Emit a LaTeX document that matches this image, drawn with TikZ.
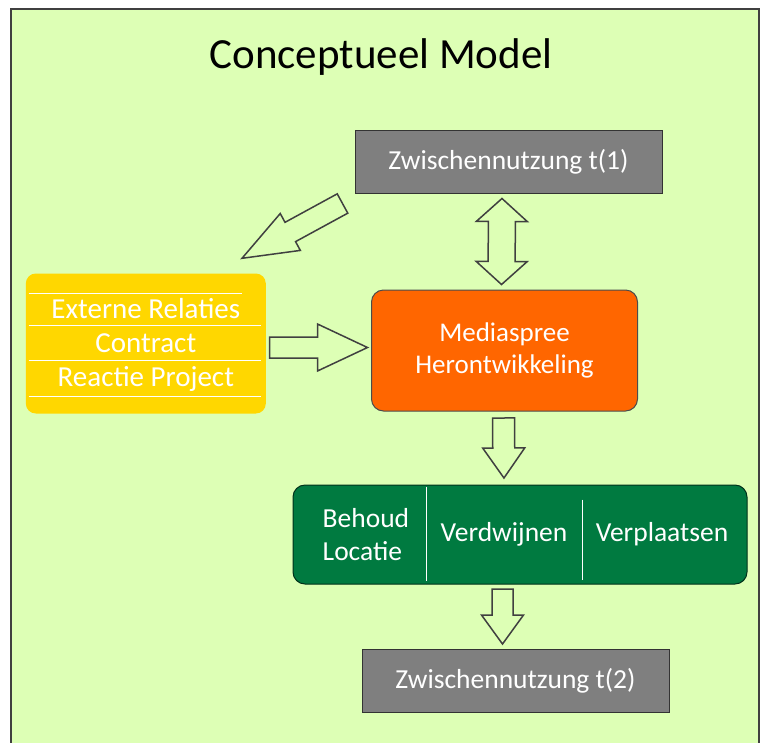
\documentclass[tikz,border=0pt]{standalone}
\usepackage{fontspec}
\setmainfont{Carlito}
\usepackage{xcolor}
\usetikzlibrary{positioning, calc}

\definecolor{panelgreen}{HTML}{DDFFB5}
\definecolor{boxgray}{HTML}{7F7F7F}
\definecolor{boxorange}{HTML}{FF6600}
\definecolor{boxyellow}{HTML}{FFD700}
\definecolor{boxgreen}{HTML}{007A40}
\definecolor{edgegray}{HTML}{404040}

\begin{document}
\begin{tikzpicture}[
    x=1pt, y=-1pt,
    fat shaft/.store in=\fatshaft, fat head/.store in=\fathead,
    fat len/.store in=\fatlen, fat gap/.store in=\fatgap,
    fat shaft=11pt, fat head=21pt, fat len=30pt, fat gap=0pt,
    panel/.style={draw=edgegray, fill=panelgreen, line width=2pt},
    titletext/.style={font=\fontsize{43}{51}\selectfont},
    graybox/.style={rectangle, draw=black!80, fill=boxgray, line width=1pt, minimum width=307pt, minimum height=63pt, text=white, font=\fontsize{27.5}{33}\selectfont},
    devbox/.style={rectangle, draw=black!70, fill=boxorange, rounded corners=12pt, line width=1pt, minimum width=266pt, minimum height=121pt, align=center, text=white, font=\fontsize{27}{32}\selectfont},
    extbox/.style={rectangle, fill=boxyellow, rounded corners=10pt, minimum width=240pt, minimum height=140pt},
    optbox/.style={rectangle, draw=black!60!boxgreen, fill=boxgreen, rounded corners=12pt, line width=1pt, minimum width=454pt, minimum height=99pt},
    rowtext/.style={text=white, font=\fontsize{29}{34}\selectfont, inner sep=0pt},
    optlbl/.style={text=white, font=\fontsize{27.5}{33}\selectfont, align=left, inner sep=0pt},
    divider/.style={draw=white, line width=1pt},
    blockarrow/.style={draw=edgegray, line width=1.5pt, line join=miter, to path={
        let \p1=($(\tikztostart)!\fatgap!(\tikztotarget)$),
            \p2=($(\tikztotarget)!\fatgap!(\tikztostart)$) in
        ($(\p1)!\fatshaft!-90:(\p2)$)
        -- ($(\p2)!\fatlen!(\p1)!\fatshaft!-90:(\p2)$)
        -- ($(\p2)!\fatlen!(\p1)!\fathead!-90:(\p2)$)
        -- (\p2)
        -- ($(\p2)!\fatlen!(\p1)!\fathead!90:(\p2)$)
        -- ($(\p2)!\fatlen!(\p1)!\fatshaft!90:(\p2)$)
        -- ($(\p1)!\fatshaft!90:(\p2)$) -- cycle}},
    twowayarrow/.style={draw=edgegray, line width=1.5pt, line join=miter, to path={
        let \p1=($(\tikztostart)!\fatgap!(\tikztotarget)$),
            \p2=($(\tikztotarget)!\fatgap!(\tikztostart)$) in
        (\p1)
        -- ($(\p1)!\fatlen!(\p2)!\fathead!-90:(\p2)$)
        -- ($(\p1)!\fatlen!(\p2)!\fatshaft!-90:(\p2)$)
        -- ($(\p2)!\fatlen!(\p1)!\fatshaft!-90:(\p2)$)
        -- ($(\p2)!\fatlen!(\p1)!\fathead!-90:(\p2)$)
        -- (\p2)
        -- ($(\p2)!\fatlen!(\p1)!\fathead!90:(\p2)$)
        -- ($(\p2)!\fatlen!(\p1)!\fatshaft!90:(\p2)$)
        -- ($(\p1)!\fatlen!(\p2)!\fatshaft!90:(\p2)$)
        -- ($(\p1)!\fatlen!(\p2)!\fathead!90:(\p2)$) -- cycle}}
]

\useasboundingbox (0,0) rectangle (765,742);
\fill[white] (0,0) rectangle (765,742);
\draw[panel] (11,9) rectangle (759,760);

% Title
\node[titletext, anchor=base] (title) at (381,68) {Conceptueel Model};

% Main column
\node[graybox] (t1) at (508.5,161.5) {Zwischennutzung t(1)};
\node[devbox, below=96pt of t1, xshift=-4pt] (dev) {Mediaspree\\Herontwikkeling};
\node[optbox, below=73pt of dev, xshift=15.5pt] (opts) {};
\node[graybox, below=64pt of opts, xshift=-4.5pt] (t2) {Zwischennutzung t(2)};

% Left: external factors
\node[extbox, left=105pt of dev, yshift=7pt] (ext) {};
\node[rowtext] (rel) at ([yshift=35pt]ext.center) {Externe Relaties};
\node[rowtext] (con) at (ext.center) {Contract};
\node[rowtext] (rea) at ([yshift=-35pt]ext.center) {Reactie Project};
\draw[divider] ([xshift=3pt, yshift=50pt]ext.west) -- ++(213,0);
\draw[divider] ([xshift=3pt, yshift=18pt]ext.west) -- ++(232,0);
\draw[divider] ([xshift=3pt, yshift=-17pt]ext.west) -- ++(232,0);
\draw[divider] ([xshift=3pt, yshift=-53pt]ext.west) -- ++(232,0);

% Outcomes
\node[optlbl, anchor=west] (behoud) at ([xshift=30pt]opts.west) {Behoud\\Locatie};
\node[optlbl] (verdwijnen) at ([xshift=-16pt]opts.center) {Verdwijnen};
\node[optlbl] (verplaatsen) at ([xshift=142pt]opts.center) {Verplaatsen};
\draw[divider] ([xshift=134pt, yshift=-2pt]opts.north west) -- ([xshift=134pt, yshift=4pt]opts.south west);
\draw[divider] ([xshift=290pt, yshift=-15pt]opts.north west) -- ([xshift=290pt, yshift=5pt]opts.south west);

% Block arrows
\draw[blockarrow, fat shaft=11pt, fat head=21pt, fat len=55pt]
    ([xshift=-12pt, yshift=-10pt]t1.south west) to ([xshift=-24pt, yshift=15pt]ext.north east);
\draw[twowayarrow, fat shaft=13.5pt, fat head=25.5pt, fat len=23pt, fat gap=5pt]
    ([xshift=-6.5pt]t1.south) to ([xshift=-3pt]dev.north);
\draw[blockarrow, fat shaft=10.5pt, fat head=23.5pt, fat len=50pt, fat gap=3.5pt]
    ([yshift=-4pt]ext.east) to ([yshift=3pt]dev.west);
\draw[blockarrow, fat shaft=11pt, fat head=21pt, fat len=30pt, fat gap=6.5pt]
    ([xshift=-1pt]dev.south) to ([xshift=-16pt]opts.north);
\draw[blockarrow, fat shaft=10.5pt, fat head=21pt, fat len=29pt, fat gap=4.5pt]
    ([xshift=-17.5pt]opts.south) to ([xshift=-13pt]t2.north);

\end{tikzpicture}
\end{document}
